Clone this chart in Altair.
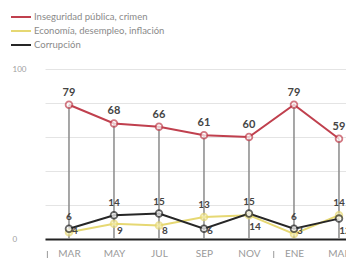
import altair as alt
import pandas as pd

months = ["MAR", "MAY", "JUL", "SEP", "NOV", "ENE", "MAR"]
series_names = ["Inseguridad pública, crimen", "Economía, desempleo, inflación", "Corrupción"]
inseguridad = [79, 68, 66, 61, 60, 79, 59]
economia = [4, 9, 8, 13, 14, 3, 14]
corrupcion = [6, 14, 15, 6, 15, 6, 12]
year_breaks = [-0.48, 4.55]
colors = ["#c0404e", "#e6d873", "#262626"]

rows = []
for i, m in enumerate(months):
    rows.append({"i": i, "mes": m, "serie": series_names[0], "v": inseguridad[i], "pos": "top"})
    hi_e = economia[i] >= corrupcion[i]
    rows.append({"i": i, "mes": m, "serie": series_names[1], "v": economia[i], "pos": "hi" if hi_e else "lo"})
    rows.append({"i": i, "mes": m, "serie": series_names[2], "v": corrupcion[i], "pos": "lo" if hi_e else "hi"})
df = pd.DataFrame(rows)
red = df[df.serie == series_names[0]]
breaks = pd.DataFrame({"b": year_breaks})

label_expr = "[" + ",".join("'%s'" % m for m in months) + "][datum.value]"
xs = alt.Scale(domain=[-0.533, 6.156], nice=False, zero=False)
ys = alt.Scale(domain=[0, 105.3], nice=False, zero=False)
cs = alt.Scale(domain=series_names, range=colors)
FONT = "Lato"

x_axis = alt.Axis(
    values=list(range(len(months))), labelExpr=label_expr, title=None,
    domainColor="#222", domainWidth=2, ticks=False, tickSize=0, grid=False,
    labelPadding=9, labelFontSize=10, labelColor="#9a9a9a", labelFont=FONT,
    labelOverlap=False)
y_axis = alt.Axis(
    values=[0, 20, 40, 60, 80, 100], title=None, domain=False, ticks=False, tickSize=0,
    labelExpr="datum.value == 0 || datum.value == 100 ? datum.label : ''",
    labelAlign="left", labelPadding=33, labelFontSize=8, labelColor="#a0a0a0",
    labelFont=FONT, gridColor="#e4e4e4", gridWidth=1,
    labelOverlap=False, labelBound=False, labelFlush=False)

x_enc = alt.X("i:Q", scale=xs, axis=x_axis)
y_enc = alt.Y("v:Q", scale=ys, axis=y_axis)

drops = alt.Chart(red).mark_rule(color="#8a8a8a", strokeWidth=1.5).encode(
    x=x_enc, y=y_enc, y2=alt.datum(0))

ticks = alt.Chart(breaks).mark_rule(color="#999", strokeWidth=1).encode(
    x=alt.X("b:Q", scale=xs, axis=x_axis), y=alt.value(191), y2=alt.value(198))

lines = alt.Chart(df).mark_line(strokeWidth=2).encode(
    x=x_enc, y=y_enc,
    color=alt.Color("serie:N", scale=cs, sort=series_names, legend=alt.Legend(
        title=None, orient="none", legendX=-33, legendY=-52,
        symbolType="M-1.25,0H1.25", symbolSize=256, symbolStrokeWidth=2,
        labelFontSize=9.5, labelColor="#8a8a8a",
        labelFont=FONT, rowPadding=0, labelOffset=4)),
    detail="serie:N")

points = alt.Chart(df).mark_point(filled=True, size=45, strokeWidth=1.8).encode(
    x=x_enc, y=y_enc,
    stroke=alt.Color("serie:N", scale=cs, legend=None),
    fill=alt.Fill("serie:N", scale=alt.Scale(domain=series_names, range=["#ffffff", "#f6efb0", "#ffffff"]), legend=None))

lab_top = alt.Chart(df).transform_filter("datum.pos == 'top'").mark_text(
    dy=-12, fontSize=11, fontWeight="bold", color="#444", font=FONT).encode(
    x=x_enc, y=y_enc, text="v:Q")
lab_hi = alt.Chart(df).transform_filter("datum.pos == 'hi'").mark_text(
    dy=-12, fontSize=10, fontWeight="bold", color="#444", font=FONT).encode(
    x=x_enc, y=y_enc, text="v:Q")
lab_lo = alt.Chart(df).transform_filter("datum.pos == 'lo'").transform_calculate(
    ly="max(datum.v - 7, 4.5)").mark_text(
    dx=6, fontSize=10, fontWeight="bold", color="#444", font=FONT).encode(
    x=x_enc, y=alt.Y("ly:Q", scale=ys, axis=y_axis), text="v:Q")

chart = alt.layer(drops, ticks, lines, points, lab_top, lab_hi, lab_lo).properties(
    width=301, height=179,
    autosize=alt.AutoSizeParams(type="none"),
    padding={"left": 37, "top": 52, "right": 0, "bottom": 19},
).configure_view(stroke=None)

chart.save("out.html", embed_options={"renderer": "svg", "actions": False})
